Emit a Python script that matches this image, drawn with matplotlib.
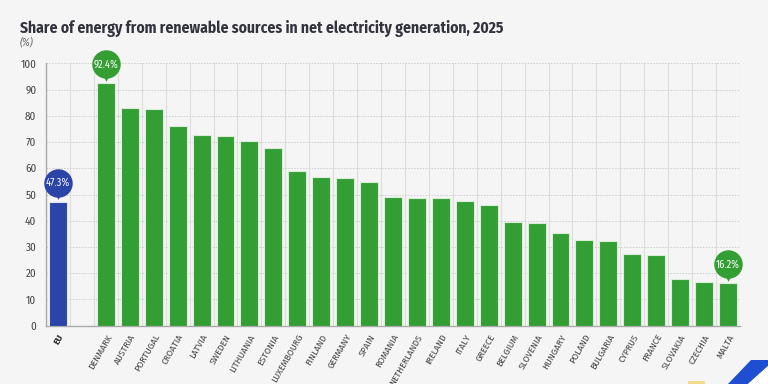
import numpy as np
import matplotlib as mpl
mpl.use('Agg')
from matplotlib import pyplot as plt
from matplotlib import font_manager
from matplotlib.patches import Polygon, Rectangle
from matplotlib.transforms import offset_copy

countries = ['DENMARK', 'AUSTRIA', 'PORTUGAL', 'CROATIA', 'LATVIA', 'SWEDEN',
             'LITHUANIA', 'ESTONIA', 'LUXEMBOURG', 'FINLAND', 'GERMANY', 'SPAIN',
             'ROMANIA', 'NETHERLANDS', 'IRELAND', 'ITALY', 'GREECE', 'BELGIUM',
             'SLOVENIA', 'HUNGARY', 'POLAND', 'BULGARIA', 'CYPRUS', 'FRANCE',
             'SLOVAKIA', 'CZECHIA', 'MALTA']
values = [92.4, 82.9, 82.6, 76.2, 72.8, 72.3, 70.5, 67.7, 59.1, 56.5, 56.2, 54.8,
          48.9, 48.8, 48.5, 47.6, 46.0, 39.4, 39.2, 35.5, 32.7, 32.2, 27.5, 27.1,
          17.8, 16.8, 16.2]
eu_label = 'EU'
eu_value = 47.3
yticks = [0, 10, 20, 30, 40, 50, 60, 70, 80, 90, 100]

# pick a condensed face if one is around
have = {f.name for f in font_manager.fontManager.ttflist}
narrow = 'DejaVu Sans'
for cand in ['Fira Sans Condensed', 'Roboto Condensed', 'PT Sans Narrow',
             'Asap Condensed', 'Liberation Sans Narrow']:
    if cand in have:
        narrow = cand
        break
plt.rcParams['font.family'] = [narrow, 'DejaVu Sans']

green = '#339e33'
blue = '#2a44a8'
bg = '#f5f5f5'

fig = plt.figure(figsize=(7.68, 3.84), dpi=100, facecolor=bg)
ax = fig.add_axes([46/768, 1-325.7/384, 694/768, 262.4/384])
ax.set_facecolor(bg)

xs = np.arange(2, 2 + len(countries))
ax.bar([0], [eu_value], width=0.75, color=blue, edgecolor='#dfe3f0', linewidth=0.8, zorder=3)
ax.bar(xs, values, width=0.75, color=green, edgecolor='#d8ecd6', linewidth=0.8, zorder=3)

ax.set_xlim(-0.5, 28.5)
ax.set_ylim(0, 100)
ax.set_yticks(yticks)
ax.set_yticklabels([str(t) for t in yticks], fontsize=8, color='#444444')
ax.set_xticks([0] + list(xs))
ax.set_xticklabels([eu_label] + countries, rotation=60, ha='right',
                   rotation_mode='anchor', fontsize=7, color='#4a4a4a')
ax.get_xticklabels()[0].set_fontweight('bold')
ax.get_xticklabels()[0].set_color('#333333')
ax.tick_params(axis='both', length=0, pad=5)
ax.tick_params(axis='y', pad=7)

ax.set_xticks(np.arange(-0.5, 29, 1), minor=True)
ax.tick_params(axis='x', which='minor', length=0)
ax.grid(axis='x', which='minor', color='#dddddd', linewidth=0.8, zorder=0)
ax.grid(axis='y', which='major', color='#cccccc', linewidth=0.7, linestyle=(0, (1.5, 1.5)), zorder=0)
ax.grid(axis='x', which='major', visible=False)

for s in ['top', 'right']:
    ax.spines[s].set_visible(False)
for s in ['left', 'bottom']:
    ax.spines[s].set_color('#aaaaaa')
    ax.spines[s].set_linewidth(1.0)

# value bubbles
def bubble(x, v, col):
    tc = offset_copy(ax.transData, fig=fig, x=0, y=13.5, units='points')
    tt = offset_copy(ax.transData, fig=fig, x=0, y=4.5, units='points')
    ax.scatter([x], [v], s=420, color=col, transform=tc, zorder=5, clip_on=False, linewidths=0)
    ax.scatter([x], [v], s=40, marker='v', color=col, transform=tt, zorder=5, clip_on=False, linewidths=0)
    ax.text(x, v, '%.1f%%' % v, transform=tc, ha='center', va='center',
            color='white', fontsize=7.5, zorder=6, clip_on=False)

bubble(0, eu_value, blue)
bubble(xs[0], values[0], green)
bubble(xs[-1], values[-1], green)

fig.text(20/768, 1-33/384, 'Share of energy from renewable sources in net electricity generation, 2025',
         fontsize=11.2, fontweight='bold', color='#333340', ha='left', va='baseline')
fig.text(20/768, 1-46/384, '(%)', fontsize=7.5, style='italic', color='#666666', ha='left', va='baseline')

# corner decoration
fig.add_artist(Polygon([(728/768, 0), (751/768, 24/384), (768/768, 24/384), (768/768, 18/384), (748/768, 0)],
                       closed=True, transform=fig.transFigure, color='#1f4fd0', lw=0))
fig.add_artist(Polygon([(748/768, 0), (768/768, 18/384), (768/768, 0)],
                       closed=True, transform=fig.transFigure, color='white', lw=0))
fig.add_artist(Rectangle((688/768, 0), 17/768, 3/384, transform=fig.transFigure, color='#f3dc8c', lw=0))

fig.savefig('out.png', dpi=100, facecolor=bg)
